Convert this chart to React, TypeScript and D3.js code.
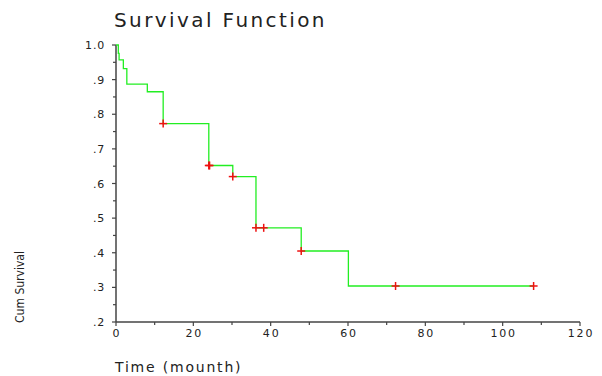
import React from "react";
import * as d3 from "d3";

// Kaplan-Meier steps
const eventTimes = [0.6, 0.8, 1.9, 2.8, 8.1, 12.2, 24, 30.2, 36.2, 47.9, 60.1];
const survival = [0.976, 0.957, 0.932, 0.887, 0.865, 0.773, 0.652, 0.62, 0.472, 0.405, 0.304];
const censorTimes = [12.2, 24, 24.2, 30.2, 36.2, 38.2, 47.9, 72.3, 108];
const endTime = 108;

const xTicks = [0, 20, 40, 60, 80, 100, 120];
const xMinor = [10, 30, 50, 70, 90, 110];
const yTicks = [0.2, 0.3, 0.4, 0.5, 0.6, 0.7, 0.8, 0.9, 1.0];
const yLabels = [".2", ".3", ".4", ".5", ".6", ".7", ".8", ".9", "1.0"];
const yMinor = [0.25, 0.35, 0.45, 0.55, 0.65, 0.75, 0.85, 0.95];

export default function App() {
  const W = 602;
  const H = 376;
  const x = d3.scaleLinear().domain([0, 120]).range([116, 580]);
  const y = d3.scaleLinear().domain([0.2, 1.0]).range([322, 45]);

  const pts: [number, number][] = [[0, 1]];
  eventTimes.forEach((t, i) => pts.push([t, survival[i]]));
  pts.push([endTime, survival[survival.length - 1]]);

  const line = d3
    .line<[number, number]>()
    .x((d) => x(d[0]))
    .y((d) => y(d[1]))
    .curve(d3.curveStepAfter);

  const survAt = (t: number) => {
    let s = 1;
    eventTimes.forEach((e, i) => {
      if (e <= t + 0.3) s = survival[i];
    });
    return s;
  };

  const axisColor = "#444";
  const font = "'DejaVu Sans', sans-serif";

  return (
    <svg
      width={W}
      height={H}
      style={{ position: "absolute", left: 0, top: 0, background: "#fff" }}
      fontFamily={font}
    >
      <text x={114} y={27} fontSize={20} fill="#222" letterSpacing={2.4}>
        Survival Function
      </text>

      {/* y axis */}
      <line x1={116} x2={116} y1={y(1)} y2={322} stroke={axisColor} strokeWidth={1.5} />
      {yTicks.map((v, i) => (
        <g key={"yt" + v}>
          <line x1={112} x2={116} y1={y(v)} y2={y(v)} stroke={axisColor} strokeWidth={1.2} />
          <text x={105} y={y(v) + 4} fontSize={11} textAnchor="end" fill="#222" letterSpacing={0.8}>
            {yLabels[i]}
          </text>
        </g>
      ))}
      {yMinor.map((v) => (
        <line key={"ym" + v} x1={113} x2={116} y1={y(v)} y2={y(v)} stroke={axisColor} strokeWidth={1.2} />
      ))}

      {/* x axis */}
      <line x1={116} x2={x(120)} y1={322} y2={322} stroke={axisColor} strokeWidth={1.5} />
      {xTicks.map((v) => (
        <g key={"xt" + v}>
          <line x1={x(v)} x2={x(v)} y1={322} y2={326} stroke={axisColor} strokeWidth={1.2} />
          <text x={x(v) + 1} y={337} fontSize={11} textAnchor="middle" fill="#222" letterSpacing={1.8}>
            {v}
          </text>
        </g>
      ))}
      {xMinor.map((v) => (
        <line key={"xm" + v} x1={x(v)} x2={x(v)} y1={322} y2={325} stroke={axisColor} strokeWidth={1.2} />
      ))}

      <text x={115} y={372} fontSize={14} fill="#222" letterSpacing={1.8}>
        Time (mounth)
      </text>
      <text
        transform="translate(24,287) rotate(-90)"
        fontSize={13}
        textAnchor="middle"
        fill="#222"
        textLength={72}
        lengthAdjust="spacingAndGlyphs"
      >
        Cum Survival
      </text>

      <path d={line(pts) || ""} fill="none" stroke="#22ee22" strokeWidth={1.3} />

      {censorTimes.map((t, i) => {
        const cx = x(t);
        const cy = y(survAt(t));
        return (
          <g key={"c" + i} stroke="#ee1111" strokeWidth={1.5}>
            <line x1={cx - 4} x2={cx + 4} y1={cy} y2={cy} />
            <line x1={cx} x2={cx} y1={cy - 4} y2={cy + 4} />
          </g>
        );
      })}
    </svg>
  );
}
